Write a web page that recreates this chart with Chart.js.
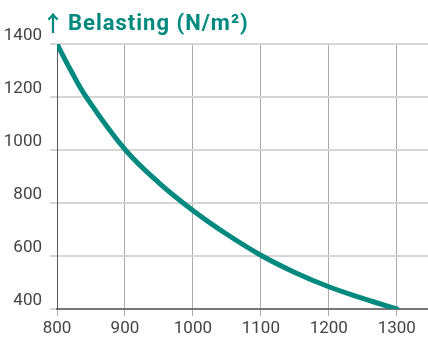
<!DOCTYPE html>
<html>
<head>
<meta charset="utf-8">
<script src="https://cdn.jsdelivr.net/npm/chart.js@4.4.1/dist/chart.umd.min.js"></script>
<style>
  html, body { margin: 0; padding: 0; background: #fff; }
  #wrap { position: relative; width: 428px; height: 339px; }
</style>
</head>
<body>
<div id="wrap"><canvas id="load-chart"></canvas></div>
<script>
// values
const widths = [800, 820, 843, 900, 950, 1000, 1050, 1100, 1150, 1200, 1250, 1300]
const loads = [1400, 1302, 1200, 1002, 876, 772, 682, 603, 538, 484, 440, 400]
const xTicks = [800, 900, 1000, 1100, 1200, 1300]
const yTicks = [400, 600, 800, 1000, 1200, 1400]
const titleArrow = '\u2191'
const titleText = 'Belasting (N/m\u00b2)'

const TEAL = '#00897f'
const FONT = 'Roboto, "Noto Sans", sans-serif'

// title sits left of the plot area, so draw it by hand
const titlePlugin = {
  id: 'leftTitle',
  afterDraw: (chart) => {
    const ctx = chart.ctx
    ctx.save()
    ctx.fillStyle = TEAL
    ctx.textBaseline = 'alphabetic'
    ctx.textAlign = 'left'
    ctx.font = 'bold 22px "Noto Sans CJK SC", sans-serif'
    ctx.fillText(titleArrow, 42, 31)
    ctx.font = 'bold 22px ' + FONT
    ctx.letterSpacing = '1px'
    ctx.fillText(titleText, 68, 30)
    ctx.restore()
  }
}

const points = widths.map((w, i) => ({ x: w, y: loads[i] }))

new Chart(document.getElementById('load-chart'), {
  type: 'line',
  data: {
    datasets: [
      {
        data: points,
        borderColor: TEAL,
        borderWidth: 5,
        borderCapStyle: 'round',
        pointRadius: 0,
        tension: 0.4,
        fill: false
      }
    ]
  },
  options: {
    responsive: true,
    maintainAspectRatio: false,
    animation: false,
    layout: { padding: { top: 44, right: 0, left: 0, bottom: 0 } },
    plugins: {
      legend: { display: false },
      tooltip: { enabled: false }
    },
    scales: {
      x: {
        type: 'linear',
        min: 800,
        max: 1346,
        afterBuildTicks: (axis) => {
          axis.ticks = xTicks.map((v) => ({ value: v }))
        },
        afterFit: (axis) => {
          axis.height = 30
        },
        grid: { color: '#aaaaaa', lineWidth: 1, tickLength: 7, drawTicks: true },
        border: { color: '#777777', width: 2 },
        ticks: {
          color: '#444',
          padding: 3,
          maxRotation: 0,
          callback: (v) => String(v),
          font: { family: FONT, size: 17 }
        }
      },
      y: {
        min: 400,
        max: 1400,
        afterBuildTicks: (axis) => {
          axis.ticks = yTicks.map((v) => ({ value: v }))
        },
        afterFit: (axis) => {
          axis.width = 57
        },
        grid: { color: '#d6d6d6', lineWidth: 2, tickLength: 7, drawTicks: true },
        border: { color: '#555555', width: 1 },
        ticks: {
          color: '#444',
          padding: 8,
          labelOffset: -8,
          callback: (v) => String(v),
          font: { family: FONT, size: 17 }
        }
      }
    }
  },
  plugins: [titlePlugin]
})
</script>
</body>
</html>
